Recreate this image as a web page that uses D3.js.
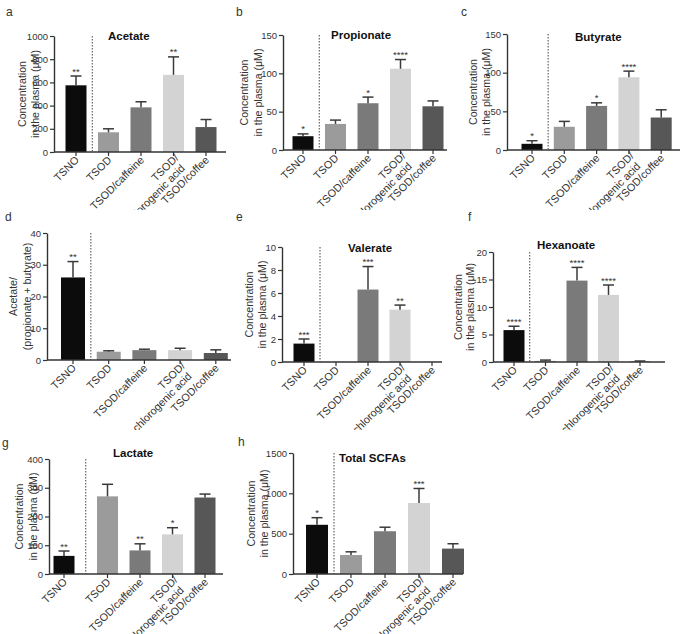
<!DOCTYPE html>
<html><head><meta charset="utf-8">
<script src="https://cdn.jsdelivr.net/npm/d3@7"></script>
<style>body{margin:0;background:#fff}svg{display:block}text{font-family:"Liberation Sans",Arial,sans-serif}</style>
</head><body><svg id="c" width="681" height="634"></svg>
<script>
const categories = ["TSNO","TSOD","TSOD/caffeine","TSOD/\nchlorogenic acid","TSOD/coffee"];
const barColors = ["#0c0c0c","#9b9b9b","#7a7a7a","#d3d3d3","#575757"];

const acetate      = [575, 170, 385, 665, 215];
const acetateErr   = [80, 30, 48, 155, 65];
const acetateSig   = ["**","","","**",""];
const propionate   = [18, 34, 61, 106, 57];
const propionateErr= [3, 5, 8, 12, 7];
const propionateSig= ["*","","*","****",""];
const butyrate     = [8, 30, 57, 94, 42];
const butyrateErr  = [4, 7, 4, 8, 10];
const butyrateSig  = ["*","","*","****",""];
const ratio        = [26, 2.6, 3.1, 3.1, 2.2];
const ratioErr     = [5, 0.3, 0.3, 0.6, 1.0];
const ratioSig     = ["**","","","",""];
const valerate     = [1.6, 0, 6.3, 4.55, 0];
const valerateErr  = [0.4, 0, 2.0, 0.4, 0];
const valerateSig  = ["***","","***","**",""];
const hexanoate    = [5.8, 0.2, 14.8, 12.2, 0.08];
const hexanoateErr = [0.7, 0.15, 2.4, 1.8, 0.1];
const hexanoateSig = ["****","","****","****",""];
const lactate      = [63, 270, 82, 138, 266];
const lactateErr   = [17, 42, 23, 23, 12];
const lactateSig   = ["**","","**","*",""];
const total        = [610, 235, 530, 880, 315];
const totalErr     = [88, 40, 50, 180, 60];
const totalSig     = ["*","","","***",""];

const ticksA = [0,200,400,600,800,1000];
const ticksB = [0,50,100,150];
const ticksD = [0,10,20,30,40];
const ticksE = [0,2,4,6,8,10];
const ticksF = [0,5,10,15,20];
const ticksG = [0,100,200,300,400];
const ticksH = [0,500,1000,1500];

const concLabel = ["Concentration","in the plasma (\u03bcM)"];

const panels = [
 {letter:"a", lx:6, ly:16, title:"Acetate", tx:108, ty:40, vals:acetate, err:acetateErr, sig:acetateSig, ticks:ticksA, ylab:concLabel, ylx:[26,39],
  ax:54, yTop:36, y0:152, c0:76, step:32.5, gap:0, end:226, bw:21, clipY:210},
 {letter:"b", lx:236, ly:16, title:"Propionate", tx:331, ty:39, vals:propionate, err:propionateErr, sig:propionateSig, ticks:ticksB, ylab:concLabel, ylx:[248,262],
  ax:283, yTop:35, y0:150, c0:303, step:32.5, gap:0, end:447, bw:21, clipY:210},
 {letter:"c", lx:461, ly:16, title:"Butyrate", tx:575, ty:41, vals:butyrate, err:butyrateErr, sig:butyrateSig, ticks:ticksB, ylab:concLabel, ylx:[477,490],
  ax:507, yTop:34, y0:150, c0:532, step:32.3, gap:0, end:680, bw:21, clipY:210},
 {letter:"d", lx:5, ly:221, title:"", tx:0, ty:0, vals:ratio, err:ratioErr, sig:ratioSig, ticks:ticksD, ylab:["Acetate/","(propionate + butyrate)"], ylx:[17,31],
  ax:47, yTop:233, y0:360, c0:73, step:35.7, gap:0, end:231, bw:24, clipY:430},
 {letter:"e", lx:236, ly:221, title:"Valerate", tx:348, ty:252, vals:valerate, err:valerateErr, sig:valerateSig, ticks:ticksE, ylab:concLabel, ylx:[253,266],
  ax:282, yTop:247, y0:362, c0:304, step:32, gap:0, end:442, bw:21, clipY:430},
 {letter:"f", lx:468, ly:221, title:"Hexanoate", tx:537, ty:249, vals:hexanoate, err:hexanoateErr, sig:hexanoateSig, ticks:ticksF, ylab:concLabel, ylx:[462,474],
  ax:493, yTop:252, y0:362, c0:514, step:31.5, gap:0, end:665, bw:21, clipY:430},
 {letter:"g", lx:2, ly:447, title:"Lactate", tx:113, ty:457, vals:lactate, err:lactateErr, sig:lactateSig, ticks:ticksG, ylab:concLabel, ylx:[23,37],
  ax:49, yTop:459, y0:574, c0:64, step:32.5, gap:11, end:223, bw:21, clipY:634},
 {letter:"h", lx:238, ly:446, title:"Total SCFAs", tx:339, ty:462, vals:total, err:totalErr, sig:totalSig, ticks:ticksH, ylab:concLabel, ylx:[255,268],
  ax:293, yTop:453, y0:574, c0:317, step:34, gap:0, end:463, bw:22, clipY:634}
];

const svg = d3.select("#c");
const axisCol = "#333";
const defs = svg.append("defs");

panels.forEach((p, pi) => {
  defs.append("clipPath").attr("id", "clip" + pi).append("rect")
    .attr("x", 0).attr("y", 0).attr("width", 681).attr("height", p.clipY);
  const g = svg.append("g").attr("clip-path", `url(#clip${pi})`);
  const ymax = p.ticks[p.ticks.length-1];
  const y = d3.scaleLinear().domain([0, ymax]).range([p.y0, p.yTop]);
  const xp = d3.scalePoint().domain(categories).range([p.c0 - p.step/2, p.c0 + 4.5*p.step]).padding(0.5);
  const xc = (c,i) => xp(c) + (i>0 ? p.gap : 0);

  // panel letter
  g.append("text").attr("x", p.lx).attr("y", p.ly).attr("font-size", 12).attr("fill", "#333").text(p.letter);

  // bars
  categories.forEach((c,i) => {
    const v = p.vals[i];
    if (v > 0) {
      g.append("rect").attr("x", xc(c,i) - p.bw/2).attr("width", p.bw)
        .attr("y", y(v)).attr("height", p.y0 - y(v)).attr("fill", barColors[i]);
    }
    if (p.err[i] > 0) {
      const top = y(v + p.err[i]);
      g.append("line").attr("x1", xc(c,i)).attr("x2", xc(c,i)).attr("y1", y(v)).attr("y2", top)
        .attr("stroke", "#3a3a3a").attr("stroke-width", 1.5);
      g.append("line").attr("x1", xc(c,i)-5.5).attr("x2", xc(c,i)+5.5).attr("y1", top).attr("y2", top)
        .attr("stroke", "#3a3a3a").attr("stroke-width", 1.5);
    }
    if (p.sig[i]) {
      g.append("text").attr("x", xc(c,i)).attr("y", y(v + p.err[i]) - 1.5)
        .attr("text-anchor", "middle").attr("font-size", 9.5).attr("fill", "#333").text(p.sig[i]);
    }
  });

  // y axis
  const ya = g.append("g").attr("transform", `translate(${p.ax},0)`)
    .call(d3.axisLeft(y).tickValues(p.ticks).tickFormat(d3.format("d")).tickSize(4).tickPadding(2).tickSizeOuter(0));
  ya.select(".domain").attr("stroke", axisCol).attr("stroke-width", 1.4);
  ya.selectAll(".tick line").attr("stroke", axisCol).attr("stroke-width", 1.2);
  ya.selectAll(".tick text").attr("font-size", 9.5).attr("fill", "#333").attr("font-family", '"Liberation Sans",Arial,sans-serif');

  // x axis line
  g.append("line").attr("x1", p.ax).attr("x2", p.end).attr("y1", p.y0).attr("y2", p.y0)
    .attr("stroke", axisCol).attr("stroke-width", 1.4);
  categories.forEach((c,i) => {
    g.append("line").attr("x1", xc(c,i)).attr("x2", xc(c,i)).attr("y1", p.y0).attr("y2", p.y0+4)
      .attr("stroke", axisCol).attr("stroke-width", 1.2);
    const lines = c.split("\n");
    const t = g.append("text").attr("transform", `translate(${xc(c,i)+1},${p.y0+6}) rotate(-45)`)
      .attr("text-anchor", "end").attr("font-size", 10.8).attr("fill", "#333");
    lines.forEach((ln, k) => {
      t.append("tspan").attr("x", lines.length > 1 && k === 0 ? 3 : 0)
        .attr("dy", k === 0 ? "0.35em" : "1.1em").text(ln);
    });
  });

  // dashed separator
  const sepX = (xc(categories[0],0) + xc(categories[1],1)) / 2;
  g.append("line").attr("x1", sepX).attr("x2", sepX).attr("y1", p.yTop).attr("y2", p.y0)
    .attr("stroke", "#444").attr("stroke-width", 1).attr("stroke-dasharray", "1.5,1.5");

  // title
  if (p.title) {
    g.append("text").attr("x", p.tx).attr("y", p.ty).attr("font-size", 11.5).attr("font-weight", "bold")
      .attr("fill", "#111").text(p.title);
  }

  // y label
  const ym = (p.yTop + p.y0) / 2;
  p.ylab.forEach((ln, k) => {
    g.append("text").attr("transform", `translate(${p.ylx[k]},${ym}) rotate(-90)`)
      .attr("text-anchor", "middle").attr("font-size", 10.6).attr("fill", "#333").text(ln);
  });
});
</script></body></html>
